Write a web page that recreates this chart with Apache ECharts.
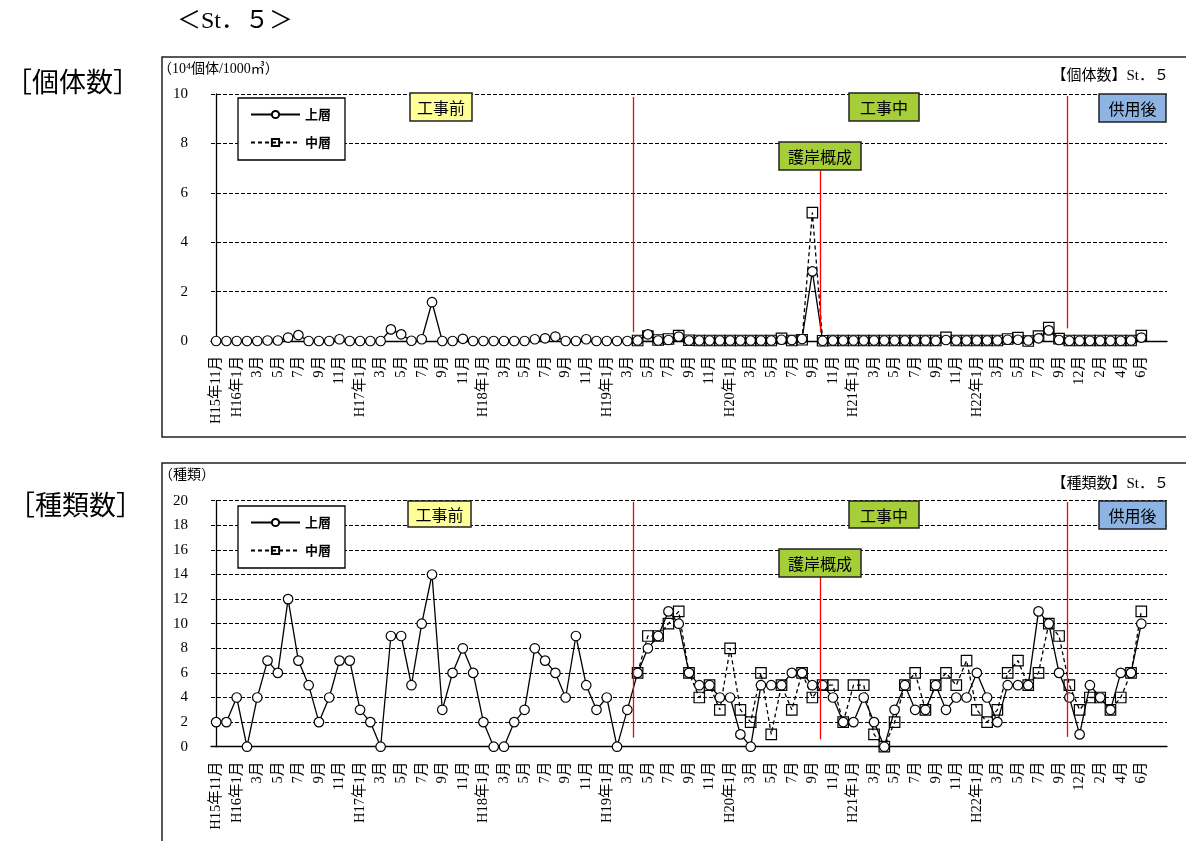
<!DOCTYPE html>
<html>
<head>
<meta charset="utf-8">
<script src="https://cdn.jsdelivr.net/npm/echarts@6/dist/echarts.min.js"></script>
<style>
html,body{margin:0;padding:0;background:#fff;}
#chart{width:1186px;height:841px;}
</style>
</head>
<body>
<div id="chart"></div>
<script>
// Sampling months (one category per survey), Heisei-era labels
const monthLabels = [
  'H15年11月','12月',
  'H16年1月','2月','3月','4月','5月','6月','7月','8月','9月','10月','11月','12月',
  'H17年1月','2月','3月','4月','5月','6月','7月','8月','9月','10月','11月','12月',
  'H18年1月','2月','3月','4月','5月','6月','7月','8月','9月','10月','11月','12月',
  'H19年1月','2月','3月','4月','5月','6月','7月','8月','9月','10月','11月','12月',
  'H20年1月','2月','3月','4月','5月','6月','7月','8月','9月','10月','11月','12月',
  'H21年1月','2月','3月','4月','5月','6月','7月','8月','9月','10月','11月','12月',
  'H22年1月','2月','3月','4月','5月','6月','7月','8月','9月','10月','12月',
  'H23年1月','2月','3月','4月','5月','6月',
  ' ','  '
];

// 個体数 (10^4 individuals / 1000 m3)
const countUpper = [
  0,0,0,0,0,0.02,0.02,0.14,0.24,0,
  0,0,0.07,0,0,0,0,0.47,0.27,0.01,
  0.07,1.57,0,0,0.09,0,0,0,0,0,
  0,0.07,0.11,0.18,0,0,0.07,0,0,0,
  0,0.02,0.27,0.02,0.04,0.18,0.02,0.02,0.02,0.02,
  0.02,0.02,0.02,0.02,0.02,0.05,0.04,0.08,2.82,0.01,
  0.02,0.02,0.02,0.02,0.02,0.02,0.02,0.02,0.02,0.02,
  0.01,0.04,0.02,0.02,0.02,0.02,0.02,0.05,0.05,0.02,
  0.11,0.43,0.04,0.01,0.01,0.01,0.01,0.01,0.01,0.02,0.14
];
const countMiddle = [
  null,null,null,null,null,null,null,null,null,null,
  null,null,null,null,null,null,null,null,null,null,
  null,null,null,null,null,null,null,null,null,null,
  null,null,null,null,null,null,null,null,null,null,
  null,0.02,0.2,0.04,0.08,0.22,0.03,0.02,0.02,0.02,
  0.02,0.02,0.02,0.02,0.02,0.11,0.02,0.05,5.2,0.01,
  0.02,0.02,0.02,0.02,0.02,0.02,0.02,0.02,0.02,0.02,
  0.02,0.15,0.02,0.02,0.02,0.02,0.02,0.08,0.14,0.0,
  0.2,0.54,0.1,0.02,0.02,0.02,0.02,0.02,0.02,0.02,0.22
];

// 種類数 (number of species)
const speciesUpper = [
  2,2,4,0,4,7,6,12,7,5,
  2,4,7,7,3,2,0,9,9,5,
  10,14,3,6,8,6,2,0,0,2,
  3,8,7,6,4,9,5,3,4,0,
  3,6,8,9,11,10,6,5,5,4,
  4,1,0,5,5,5,6,6,5,5,
  4,2,2,4,2,0,3,5,3,3,
  5,3,4,4,6,4,2,5,5,5,
  11,10,6,4,1,5,4,3,6,6,10
];
const speciesMiddle = [
  null,null,null,null,null,null,null,null,null,null,
  null,null,null,null,null,null,null,null,null,null,
  null,null,null,null,null,null,null,null,null,null,
  null,null,null,null,null,null,null,null,null,null,
  null,6,9,9,10,11,6,4,5,3,
  8,3,2,6,1,5,3,6,4,5,
  5,2,5,5,1,0,2,5,6,3,
  5,6,5,7,3,2,3,6,7,5,
  6,10,9,5,3,4,4,3,4,6,11
];

// Phase boundaries, in category units: start of 工事中, 護岸概成, start of 供用後
const phaseBreaks = [40.55, 58.8, 82.8];

const SERIF = "'Liberation Serif','Noto Sans CJK JP',serif";
const GOTHIC = "'Noto Sans CJK JP','Noto Sans',sans-serif";

const chart = echarts.init(document.getElementById('chart'), null, {renderer: 'canvas'});

function catAxis(gridIndex) {
  return {
    type: 'category', gridIndex, data: monthLabels, boundaryGap: true,
    axisLine: {show: true, lineStyle: {color: '#000', width: 1.3}},
    axisTick: {show: false},
    splitLine: {show: false},
    axisLabel: {
      interval: 1, rotate: 90, margin: 15, color: '#000',
      fontFamily: SERIF, fontSize: 14.5
    }
  };
}
function posAxis(gridIndex) {
  // invisible linear axis aligned with the category slots, used for phase lines
  return {type: 'value', gridIndex, min: -0.5, max: monthLabels.length - 0.5, show: false};
}
function valAxis(gridIndex, max) {
  return {
    type: 'value', gridIndex, min: 0, max, interval: 2,
    axisLine: {show: true, lineStyle: {color: '#000', width: 1.3}},
    axisTick: {show: true, inside: true, length: 4, lineStyle: {color: '#000'}},
    splitLine: {show: true, lineStyle: {color: '#000', width: 1, type: [4, 2]}},
    axisLabel: {color: '#000', fontFamily: SERIF, fontSize: 15, margin: 23}
  };
}
function upperSeries(name, data, x, y) {
  return {
    name, type: 'line', data, xAxisIndex: x, yAxisIndex: y, z: 4,
    symbol: 'circle', symbolSize: 9.5, showAllSymbol: true,
    itemStyle: {color: '#fff', borderColor: '#000', borderWidth: 1.2},
    lineStyle: {color: '#000', width: 1.3, type: 'solid'},
    emphasis: {disabled: true}
  };
}
function middleSeries(name, data, x, y) {
  return {
    name, type: 'line', data, xAxisIndex: x, yAxisIndex: y, z: 3,
    symbol: 'rect', symbolSize: 10.5, showAllSymbol: true, connectNulls: false,
    itemStyle: {color: 'rgba(255,255,255,0)', borderColor: '#000', borderWidth: 1.2},
    lineStyle: {color: '#000', width: 1.3, type: [4, 3]},
    emphasis: {disabled: true}
  };
}
function phaseLines(x, y, starts, ends) {
  return {
    type: 'line', data: [], xAxisIndex: x, yAxisIndex: y, silent: true,
    markLine: {
      silent: true, symbol: ['none', 'none'], label: {show: false},
      lineStyle: {color: '#ff0000', width: 1.3, type: 'solid'},
      emphasis: {disabled: true},
      data: phaseBreaks.map((p, i) => [{coord: [p, starts[i]]}, {coord: [p, ends[i]]}])
    }
  };
}
function legend(top) {
  return {
    left: 238, top, orient: 'vertical', data: ['上層', '中層'],
    backgroundColor: '#fff', borderColor: '#000', borderWidth: 1.3,
    padding: [10, 14, 11, 12], itemGap: 15, itemWidth: 49, itemHeight: 9,
    selectedMode: false,
    textStyle: {color: '#000', fontFamily: GOTHIC, fontSize: 13, fontWeight: 'bold'}
  };
}
function phaseBox(x, y, w, h, text, fill) {
  return {
    type: 'group', x, y, z: 50,
    children: [
      {type: 'rect', shape: {x: 0, y: 0, width: w, height: h},
       style: {fill, stroke: '#222', lineWidth: 1.5}, z: 50},
      {type: 'text', x: w / 2, y: h / 2 + 1, z: 51,
       style: {text, align: 'center', verticalAlign: 'middle', textAlign: 'center', textVerticalAlign: 'middle',
               fill: '#000', font: '16px ' + GOTHIC}}
    ]
  };
}
function label(x, y, text, font, align) {
  return {type: 'text', x, y, z: 60,
    style: {text, align: align || 'left', textAlign: align || 'left',
            verticalAlign: 'middle', textVerticalAlign: 'middle', fill: '#000', font}};
}

const YELLOW = '#ffff99', GREEN = '#a6ce39', BLUE = '#8db4e2';

const option = {
  backgroundColor: '#fff',
  animation: false,
  grid: [
    {left: 211, top: 94, width: 956, height: 247},
    {left: 211, top: 500.7, width: 956, height: 246}
  ],
  xAxis: [catAxis(0), catAxis(1), posAxis(0), posAxis(1)],
  yAxis: [valAxis(0, 10), valAxis(1, 20)],
  legend: [legend(98), legend(506)],
  series: [
    middleSeries('中層', countMiddle, 0, 0),
    upperSeries('上層', countUpper, 0, 0),
    middleSeries('中層', speciesMiddle, 1, 1),
    upperSeries('上層', speciesUpper, 1, 1),
    phaseLines(2, 0, [0.36, 0.36, 0.51], [9.88, 6.9, 9.92]),
    phaseLines(3, 1, [0.73, 0.6, 0.8], [19.9, 13.8, 19.9])
  ],
  graphic: [
    // panel frames
    {type: 'rect', z: 1, shape: {x: 162, y: 57, width: 1100, height: 380},
     style: {fill: 'none', stroke: '#222', lineWidth: 1.5}},
    {type: 'rect', z: 1, shape: {x: 162, y: 463, width: 1100, height: 450},
     style: {fill: 'none', stroke: '#222', lineWidth: 1.5}},
    // headings
    label(177, 22, '＜St．５＞', '24px ' + SERIF),
    label(5, 82, '［個体数］', '27px ' + GOTHIC),
    label(8, 505, '［種類数］', '27px ' + GOTHIC),
    label(158, 69, '（10⁴個体/1000㎥）', '14px ' + SERIF),
    label(159, 475, '（種類）', '14px ' + SERIF),
    label(1169, 76, '【個体数】St．５', '15px ' + SERIF, 'right'),
    label(1169, 484, '【種類数】St．５', '15px ' + SERIF, 'right'),
    // period labels, upper panel
    phaseBox(410, 93, 62, 28, '工事前', YELLOW),
    phaseBox(849, 93, 70, 28, '工事中', GREEN),
    phaseBox(1099, 94, 67, 28, '供用後', BLUE),
    phaseBox(779, 142, 82, 28, '護岸概成', GREEN),
    // period labels, lower panel
    phaseBox(408, 501, 63, 26, '工事前', YELLOW),
    phaseBox(849, 501, 70, 27, '工事中', GREEN),
    phaseBox(1099, 501, 67, 28, '供用後', BLUE),
    phaseBox(779, 549, 82, 28, '護岸概成', GREEN)
  ]
};
chart.setOption(option);
</script>
</body>
</html>
